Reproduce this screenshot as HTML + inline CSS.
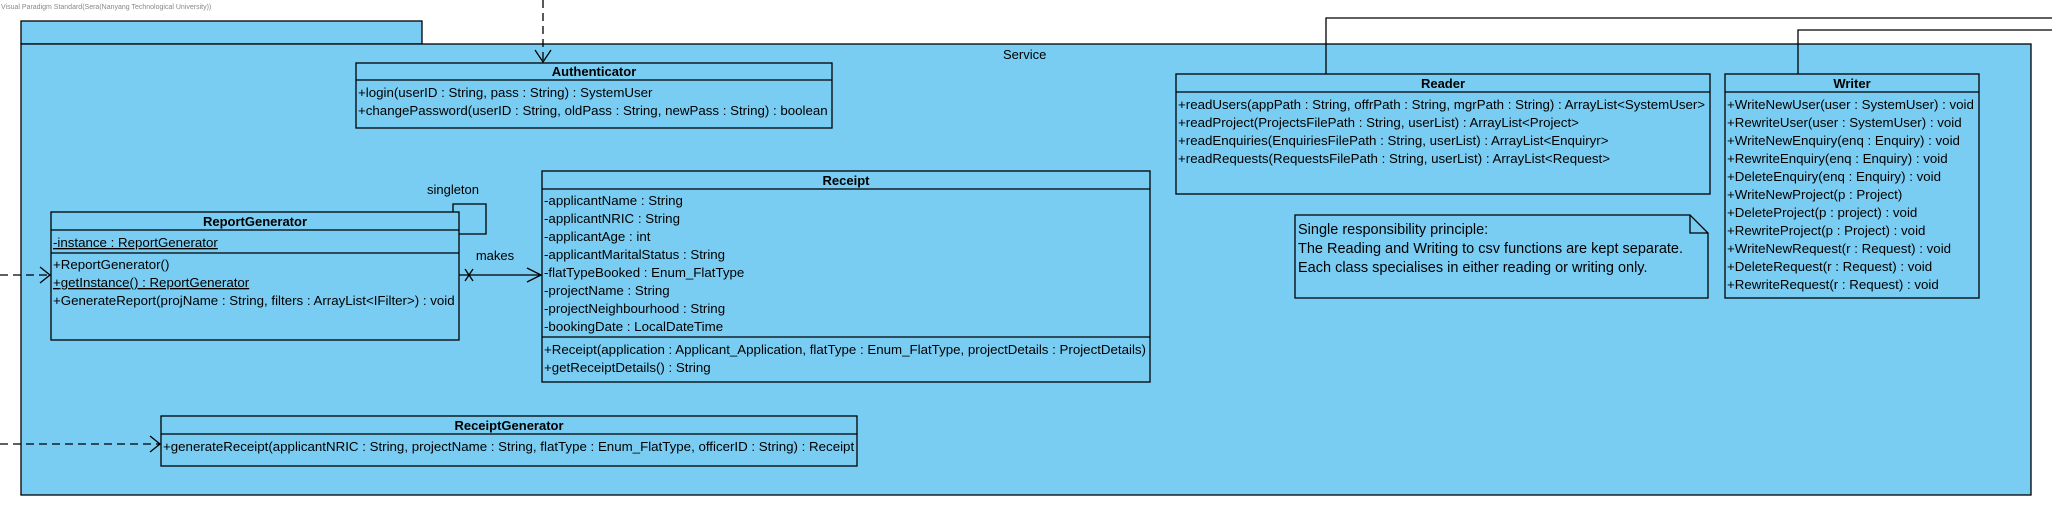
<!DOCTYPE html>
<html><head><meta charset="utf-8"><style>
html,body{margin:0;padding:0;background:#fff;}
svg{display:block;}
text{font-family:"Liberation Sans",Arial,sans-serif;font-size:13.3px;fill:#000;}
.b{font-weight:bold;font-size:13px;}
.l{font-size:13px;}
.n{font-size:14.5px;}
</style></head><body>
<svg width="2052" height="516" viewBox="0 0 2052 516" xmlns="http://www.w3.org/2000/svg">
<text x="1" y="9" style="font-size:7px;fill:#888">Visual Paradigm Standard(Sera(Nanyang Technological University))</text>
<rect x="21" y="21" width="401" height="23" fill="#79CDF3" stroke="#000" stroke-width="1.3"/>
<rect x="21" y="44" width="2010" height="451" fill="#79CDF3" stroke="#000" stroke-width="1.3"/>
<text x="1003" y="59" class="l">Service</text>

<polyline points="1326,74 1326,18 2052,18" fill="none" stroke="#000" stroke-width="1.3"/>
<polyline points="1798,74 1798,30 2052,30" fill="none" stroke="#000" stroke-width="1.3"/>

<line x1="543" y1="0" x2="543" y2="62" stroke="#000" stroke-width="1.3" stroke-dasharray="8,5"/>
<polyline points="535,50 543,62 551,50" fill="none" stroke="#000" stroke-width="1.3"/>

<rect x="356" y="63" width="476" height="65" fill="#79CDF3" stroke="#000" stroke-width="1.3"/>
<line x1="356" y1="80" x2="832" y2="80" stroke="#000" stroke-width="1.3"/>
<text x="594" y="76" text-anchor="middle" class="b">Authenticator</text>
<text x="358" y="97">+login(userID : String, pass : String) : SystemUser</text>
<text x="358" y="115">+changePassword(userID : String, oldPass : String, newPass : String) : boolean</text>

<rect x="1176" y="74" width="534" height="120" fill="#79CDF3" stroke="#000" stroke-width="1.3"/>
<line x1="1176" y1="92" x2="1710" y2="92" stroke="#000" stroke-width="1.3"/>
<text x="1443" y="88" text-anchor="middle" class="b">Reader</text>
<text x="1178" y="109">+readUsers(appPath : String, offrPath : String, mgrPath : String) : ArrayList&lt;SystemUser&gt;</text>
<text x="1178" y="127">+readProject(ProjectsFilePath : String, userList) : ArrayList&lt;Project&gt;</text>
<text x="1178" y="145">+readEnquiries(EnquiriesFilePath : String, userList) : ArrayList&lt;Enquiryr&gt;</text>
<text x="1178" y="163">+readRequests(RequestsFilePath : String, userList) : ArrayList&lt;Request&gt;</text>

<rect x="1725" y="74" width="254" height="224" fill="#79CDF3" stroke="#000" stroke-width="1.3"/>
<line x1="1725" y1="92" x2="1979" y2="92" stroke="#000" stroke-width="1.3"/>
<text x="1852" y="88" text-anchor="middle" class="b">Writer</text>
<text x="1727" y="109">+WriteNewUser(user : SystemUser) : void</text>
<text x="1727" y="127">+RewriteUser(user : SystemUser) : void</text>
<text x="1727" y="145">+WriteNewEnquiry(enq : Enquiry) : void</text>
<text x="1727" y="163">+RewriteEnquiry(enq : Enquiry) : void</text>
<text x="1727" y="181">+DeleteEnquiry(enq : Enquiry) : void</text>
<text x="1727" y="199">+WriteNewProject(p : Project)</text>
<text x="1727" y="217">+DeleteProject(p : project) : void</text>
<text x="1727" y="235">+RewriteProject(p : Project) : void</text>
<text x="1727" y="253">+WriteNewRequest(r : Request) : void</text>
<text x="1727" y="271">+DeleteRequest(r : Request) : void</text>
<text x="1727" y="289">+RewriteRequest(r : Request) : void</text>

<polygon points="1295,215 1690,215 1708,233 1708,298 1295,298" fill="#79CDF3" stroke="#000" stroke-width="1.3"/>
<polyline points="1690,215 1690,233 1708,233" fill="none" stroke="#000" stroke-width="1.3"/>
<text x="1298" y="234" class="n">Single responsibility principle:</text>
<text x="1298" y="253" class="n">The Reading and Writing to csv functions are kept separate.</text>
<text x="1298" y="272" class="n">Each class specialises in either reading or writing only.</text>

<rect x="542" y="171" width="608" height="211" fill="#79CDF3" stroke="#000" stroke-width="1.3"/>
<line x1="542" y1="189" x2="1150" y2="189" stroke="#000" stroke-width="1.3"/>
<line x1="542" y1="337" x2="1150" y2="337" stroke="#000" stroke-width="1.3"/>
<text x="846" y="185" text-anchor="middle" class="b">Receipt</text>
<text x="544" y="205">-applicantName : String</text>
<text x="544" y="223">-applicantNRIC : String</text>
<text x="544" y="241">-applicantAge : int</text>
<text x="544" y="259">-applicantMaritalStatus : String</text>
<text x="544" y="277">-flatTypeBooked : Enum_FlatType</text>
<text x="544" y="295">-projectName : String</text>
<text x="544" y="313">-projectNeighbourhood : String</text>
<text x="544" y="331">-bookingDate : LocalDateTime</text>
<text x="544" y="354">+Receipt(application : Applicant_Application, flatType : Enum_FlatType, projectDetails : ProjectDetails)</text>
<text x="544" y="372">+getReceiptDetails() : String</text>

<rect x="51" y="212" width="408" height="128" fill="#79CDF3" stroke="#000" stroke-width="1.3"/>
<line x1="51" y1="230" x2="459" y2="230" stroke="#000" stroke-width="1.3"/>
<line x1="51" y1="253" x2="459" y2="253" stroke="#000" stroke-width="1.3"/>
<text x="255" y="226" text-anchor="middle" class="b">ReportGenerator</text>
<text x="53" y="247" text-decoration="underline">-instance : ReportGenerator</text>
<text x="53" y="269">+ReportGenerator()</text>
<text x="53" y="287" text-decoration="underline">+getInstance() : ReportGenerator</text>
<text x="53" y="305">+GenerateReport(projName : String, filters : ArrayList&lt;IFilter&gt;) : void</text>
<polyline points="453,212 453,204 486,204 486,234 459,234" fill="none" stroke="#000" stroke-width="1.3"/>
<text x="453" y="194" text-anchor="middle" class="l">singleton</text>
<line x1="459" y1="275" x2="541" y2="275" stroke="#000" stroke-width="1.3"/>
<polyline points="527,268 541,275 527,282" fill="none" stroke="#000" stroke-width="1.3"/>
<line x1="465" y1="269" x2="473" y2="281" stroke="#000" stroke-width="1.3"/>
<line x1="473" y1="269" x2="465" y2="281" stroke="#000" stroke-width="1.3"/>
<text x="495" y="260" text-anchor="middle" class="l">makes</text>
<line x1="0" y1="275" x2="50" y2="275" stroke="#000" stroke-width="1.3" stroke-dasharray="8,5"/>
<polyline points="40,267 50,275 40,283" fill="none" stroke="#000" stroke-width="1.3"/>

<rect x="161" y="416" width="696" height="50" fill="#79CDF3" stroke="#000" stroke-width="1.3"/>
<line x1="161" y1="434" x2="857" y2="434" stroke="#000" stroke-width="1.3"/>
<text x="509" y="430" text-anchor="middle" class="b">ReceiptGenerator</text>
<text x="163" y="451">+generateReceipt(applicantNRIC : String, projectName : String, flatType : Enum_FlatType, officerID : String) : Receipt</text>
<line x1="0" y1="444" x2="160" y2="444" stroke="#000" stroke-width="1.3" stroke-dasharray="8,5"/>
<polyline points="150,436 160,444 150,452" fill="none" stroke="#000" stroke-width="1.3"/>
</svg>
</body></html>
